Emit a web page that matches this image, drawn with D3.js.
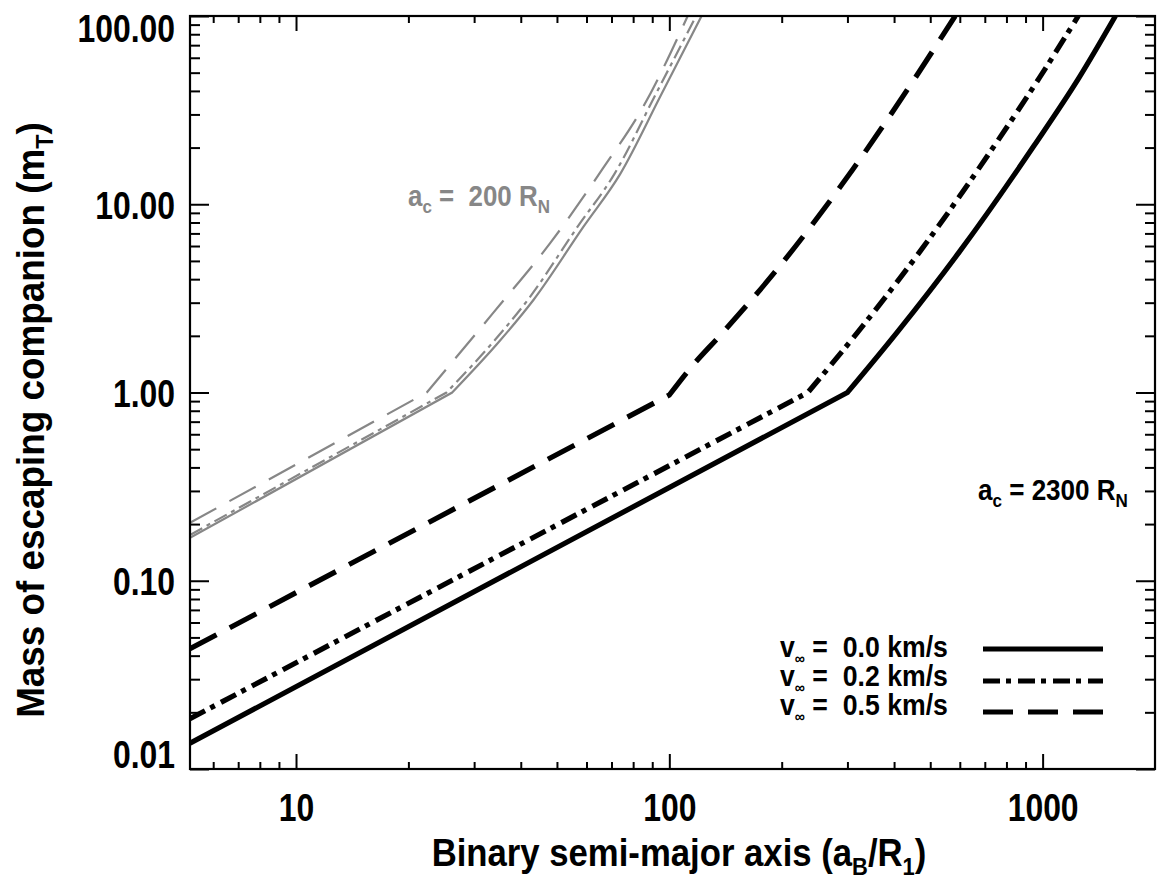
<!DOCTYPE html>
<html><head><meta charset="utf-8">
<script src="https://cdn.jsdelivr.net/npm/d3@7"></script>
<style>
body{margin:0;background:#fff}
svg text{font-family:"Liberation Sans",Arial,Helvetica,sans-serif;font-weight:bold}
</style></head><body>
<svg id="chart" width="1159" height="888"></svg>
<script>
// ---------- data ----------
const xTickValues = [10, 100, 1000];
const xTickLabels = ["10", "100", "1000"];
const yTickValues = [0.01, 0.1, 1, 10, 100];
const yTickLabels = ["0.01", "0.10", "1.00", "10.00", "100.00"];
const xMinorTicks = [6,7,8,9,20,30,40,50,60,70,80,90,200,300,400,500,600,700,800,900];
const yMinorTicks = [0.02,0.03,0.04,0.05,0.06,0.07,0.08,0.09,0.2,0.3,0.4,0.5,0.6,0.7,0.8,0.9,2,3,4,5,6,7,8,9,20,30,40,50,60,70,80,90];

// a_c = 2300 R_N (black); second point of each series is the kink
const a_v00_2300 = [5.2, 300, 407, 599, 949, 1251, 1567];
const m_v00_2300 = [0.0137, 1.0, 2.08, 5.6, 20.5, 46.9, 100];
const a_v02_2300 = [5.2, 235, 319, 469, 743, 980, 1246];
const m_v02_2300 = [0.0185, 1.0, 2.08, 5.6, 20.5, 46.9, 100];
const a_v05_2300 = [5.2, 100, 114, 139, 196, 310, 437, 583];
const m_v05_2300 = [0.0435, 0.97, 1.35, 2.08, 4.6, 15.3, 41.4, 100];
// a_c = 200 R_N (gray)
const a_v00_200 = [5.2, 26.2, 35.3, 43.3, 58.9, 73.9, 95, 122];
const m_v00_200 = [0.169, 1.0, 1.9, 3.11, 7.6, 14.5, 38, 100];
const a_v02_200 = [5.2, 25.3, 34.1, 41.8, 56.8, 71.3, 91.7, 118];
const m_v02_200 = [0.175, 1.0, 1.9, 3.11, 7.6, 14.5, 38, 100];
const a_v05_200 = [5.2, 22.4, 33.7, 48.0, 66.1, 85.3, 112];
const m_v05_200 = [0.203, 1.0, 2.64, 6.23, 15.3, 33.2, 100];

const legendLabels = ["0.0", "0.2", "0.5"];
const acLabels = ["200", "2300"];

// ---------- layout ----------
const svg = d3.select("#chart");
const L = 190, R = 1155, T = 16, B = 769;
const x = d3.scaleLog().domain([5.2, 2000]).range([L, R]);
const y = d3.scaleLog().domain([0.01, 100]).range([B, T]);
const GRAY = "#878787";

const dashStyles = { solid: null, dashdot: "17,6,5,7", dash: "30,15" };
const grayDash = { solid: null, dashdot: "14,5,4,5", dash: "30,15" };

svg.append("defs").append("clipPath").attr("id", "clip")
  .append("rect").attr("x", L).attr("y", T).attr("width", R - L).attr("height", B - T);

const series = [
  {a: a_v00_200, m: m_v00_200, style: "solid", color: GRAY, w: 2.2, dashes: grayDash},
  {a: a_v02_200, m: m_v02_200, style: "dashdot", color: GRAY, w: 2.2, dashes: grayDash},
  {a: a_v05_200, m: m_v05_200, style: "dash", color: GRAY, w: 2.2, dashes: grayDash},
  {a: a_v00_2300, m: m_v00_2300, style: "solid", color: "#000", w: 5.2, dashes: dashStyles},
  {a: a_v02_2300, m: m_v02_2300, style: "dashdot", color: "#000", w: 5.2, dashes: dashStyles},
  {a: a_v05_2300, m: m_v05_2300, style: "dash", color: "#000", w: 5.2, dashes: dashStyles}
];

const lineLin = d3.line().x(d => x(d[0])).y(d => y(d[1]));
const lineCurve = d3.line().x(d => x(d[0])).y(d => y(d[1])).curve(d3.curveMonotoneX);

const g = svg.append("g").attr("clip-path", "url(#clip)");
series.forEach(s => {
  const pts = s.a.map((v, i) => [v, s.m[i]]);
  const low = pts.slice(0, 2);
  const up = pts.slice(1);
  const dLow = lineLin(low);
  const dUp = lineCurve(up).replace(/^M[^LC]*/, "");
  g.append("path").attr("d", dLow + dUp)
    .attr("fill", "none").attr("stroke", s.color).attr("stroke-width", s.w)
    .attr("stroke-dasharray", s.dashes[s.style]).attr("stroke-linejoin", "miter");
});

// ---------- axes ----------
const SX = 0.84; // horizontal squeeze of tick-label font
function styleAxis(sel) {
  sel.select(".domain").remove();
  sel.selectAll("line").attr("stroke", "#000").attr("stroke-width", 2);
}
const fmtX = (d) => xTickLabels[xTickValues.indexOf(d)];
const fmtY = (d) => yTickLabels[yTickValues.indexOf(d)];

const xb = svg.append("g").attr("transform", `translate(0,${B})`)
  .call(d3.axisBottom(x).tickValues(xTickValues).tickFormat(fmtX).tickSizeInner(-15).tickSizeOuter(0));
styleAxis(xb);
xb.selectAll("text").attr("y", 52).attr("dy", null).attr("font-size", 38).attr("fill", "#000")
  .attr("transform", `scale(${SX},1)`);
svg.append("g").attr("transform", `translate(0,${B})`)
  .call(d3.axisBottom(x).tickValues(xMinorTicks).tickFormat("").tickSizeInner(-7).tickSizeOuter(0)).call(styleAxis);
svg.append("g").attr("transform", `translate(0,${T})`)
  .call(d3.axisTop(x).tickValues(xTickValues).tickFormat("").tickSizeInner(-15).tickSizeOuter(0)).call(styleAxis);
svg.append("g").attr("transform", `translate(0,${T})`)
  .call(d3.axisTop(x).tickValues(xMinorTicks).tickFormat("").tickSizeInner(-7).tickSizeOuter(0)).call(styleAxis);

const yl = svg.append("g").attr("transform", `translate(${L},0)`)
  .call(d3.axisLeft(y).tickValues(yTickValues).tickFormat(fmtY).tickSizeInner(-19).tickSizeOuter(0));
styleAxis(yl);
yl.selectAll("text").attr("x", -15 / SX).attr("font-size", 38).attr("fill", "#000")
  .attr("transform", `scale(${SX},1)`)
  .attr("dy", d => d === 100 ? "25px" : (d === 0.01 ? "-2px" : "14px"));
svg.append("g").attr("transform", `translate(${L},0)`)
  .call(d3.axisLeft(y).tickValues(yMinorTicks).tickFormat("").tickSizeInner(-10).tickSizeOuter(0)).call(styleAxis);
svg.append("g").attr("transform", `translate(${R},0)`)
  .call(d3.axisRight(y).tickValues(yTickValues).tickFormat("").tickSizeInner(-19).tickSizeOuter(0)).call(styleAxis);
svg.append("g").attr("transform", `translate(${R},0)`)
  .call(d3.axisRight(y).tickValues(yMinorTicks).tickFormat("").tickSizeInner(-10).tickSizeOuter(0)).call(styleAxis);

svg.append("rect").attr("x", L).attr("y", T).attr("width", R - L).attr("height", B - T)
  .attr("fill", "none").attr("stroke", "#000").attr("stroke-width", 2.2);

// fit a text element horizontally to a target width (keeps its anchor point)
function fitWidth(t, target, ax, ay, rot) {
  const w = t.node().getBBox().width;
  const s = target / w;
  t.attr("x", 0).attr("y", 0)
   .attr("transform", `translate(${ax},${ay})` + (rot ? ` rotate(${rot})` : "") + ` scale(${s},1)`);
}

// ---------- titles ----------
const xt = svg.append("text").attr("text-anchor", "middle").attr("font-size", 38).attr("fill", "#000");
xt.append("tspan").text("Binary semi-major axis (a");
xt.append("tspan").attr("font-size", 24).attr("dy", 9).text("B");
xt.append("tspan").attr("dy", -9).text("/R");
xt.append("tspan").attr("font-size", 24).attr("dy", 9).text("1");
xt.append("tspan").attr("dy", -9).text(")");
fitWidth(xt, 495, 679, 866);

const yt = svg.append("text").attr("text-anchor", "middle").attr("font-size", 38).attr("fill", "#000");
yt.append("tspan").text("Mass of escaping companion (m");
yt.append("tspan").attr("font-size", 24).attr("dy", 9).text("T");
yt.append("tspan").attr("dy", -9).text(")");
fitWidth(yt, 596, 44, 420, -90);

// ---------- annotations ----------
function acLabel(xp, yp, val, color, width) {
  const t = svg.append("text").attr("font-size", 29).attr("fill", color).style("white-space", "pre");
  t.append("tspan").text("a");
  t.append("tspan").attr("font-size", 19).attr("dy", 7).text("c");
  t.append("tspan").attr("dy", -7).text(val === "200" ? " =  " + val + " R" : " = " + val + " R");
  t.append("tspan").attr("font-size", 19).attr("dy", 7).text("N");
  fitWidth(t, width, xp, yp);
}
acLabel(408, 206, acLabels[0], GRAY, 142);
acLabel(978, 500, acLabels[1], "#000", 150);

// ---------- legend ----------
const legendY = [649, 681, 712];
const legendTextY = [657, 686, 715];
const legendStyles = ["solid", "dashdot", "dash"];
legendLabels.forEach((lab, i) => {
  const t = svg.append("text").attr("font-size", 30).attr("fill", "#000").style("white-space", "pre");
  t.append("tspan").text("v");
  t.append("tspan").attr("font-size", 16).attr("dy", 7).text("\u221E");
  t.append("tspan").attr("dy", -7).text(" =  " + lab + " km/s");
  fitWidth(t, 168, 780, legendTextY[i]);
  svg.append("line").attr("x1", 983).attr("x2", 1103).attr("y1", legendY[i]).attr("y2", legendY[i])
    .attr("stroke", "#000").attr("stroke-width", 5.2).attr("stroke-dasharray", dashStyles[legendStyles[i]]);
});
</script>
</body></html>
